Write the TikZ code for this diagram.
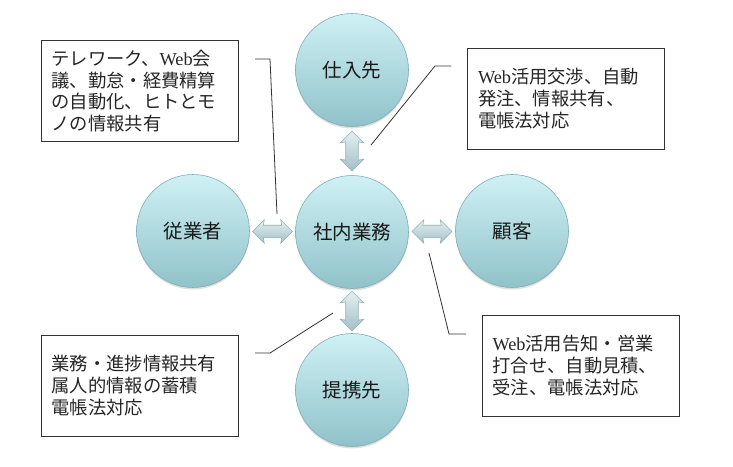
\documentclass[tikz,border=0pt]{standalone}
\usepackage{fontspec}
\setmainfont{Liberation Serif}
\newfontfamily\jp{Noto Sans CJK JP}
\usepackage{tikz}
\usetikzlibrary{calc,shapes.arrows,shadows}

\definecolor{ballTop}{HTML}{CFF1F5}
\definecolor{ballBot}{HTML}{90C2C9}
\definecolor{ballEdge}{HTML}{80AEB5}
\definecolor{arrTop}{HTML}{E4F0F2}
\definecolor{arrBot}{HTML}{A2C0C6}
\definecolor{arrEdge}{HTML}{93B0B6}

\newcommand{\W}{{\rmfamily Web}}

\begin{document}
\begin{tikzpicture}[x=1pt, y=-1pt,
    ball/.style={circle, minimum size=113pt, inner sep=0pt, top color=ballTop, bottom color=ballBot, draw=ballEdge, line width=0.6pt, drop shadow={opacity=0.25, shadow xshift=0pt, shadow yshift=-2pt}, font=\jp\fontsize{19.5pt}{22pt}\selectfont, text=black!90},
    memo/.style={draw=black!80, line width=0.9pt, fill=white, text width=176pt, inner xsep=10.5pt, minimum height=101pt, align=left, font=\jp\fontsize{18.3pt}{21.8pt}\selectfont, text=black!85},
    link/.style={double arrow, double arrow head extend=5.5pt, double arrow head indent=1pt, minimum height=40pt, inner xsep=0pt, inner ysep=6pt, top color=arrTop, bottom color=arrBot, draw=arrEdge, line width=0.6pt},
    lead/.style={draw=black!80, line width=0.8pt}]
    \useasboundingbox (0,0) rectangle (733,466);

    % circles
    \node[ball] (core) at (352,232) {社内業務};
    \node[ball] (sup) at (352,70) {仕入先};
    \node[ball] (emp) at (193,231) {従業者};
    \node[ball] (cust) at (512,231) {顧客};
    \node[ball] (part) at (352,390) {提携先};

    % double arrows between circles
    \foreach \a/\b/\r in {sup/core/90, core/part/90, emp/core/0, core/cust/0} {
        \node[link, rotate=\r] (\a-\b) at ($(\a)!0.5!(\b)$) {};
    }

    % comment boxes
    \node[memo] (memoEmp) at (139.5,91) {テレワーク、\W 会\\議、勤怠・経費精算\\の自動化、ヒトとモ\\ノの情報共有};
    \node[memo] (memoSup) at (566,98.5) {\W 活用交渉、自動\\発注、情報共有、\\電帳法対応};
    \node[memo] (memoPart) at (139.5,385.5) {業務・進捗情報共有\\属人的情報の蓄積\\電帳法対応};
    \node[memo] (memoCust) at (580.5,365.5) {\W 活用告知・営業\\打合せ、自動見積、\\受注、電帳法対応};

    % leader lines
    \coordinate (E1) at (255,59); \coordinate (E2) at (270,59); \coordinate (E3) at (277,214);
    \coordinate (S1) at (451,66); \coordinate (S2) at (435,66); \coordinate (S3) at (371,145);
    \coordinate (P1) at (255,353); \coordinate (P2) at (270,353); \coordinate (P3) at (333,313);
    \coordinate (C1) at (466,334); \coordinate (C2) at (449,334); \coordinate (C3) at (429,253);
    \foreach \p in {E, S, P, C} {
        \draw[lead] (\p1) -- (\p2) -- (\p3);
    }
\end{tikzpicture}
\end{document}
